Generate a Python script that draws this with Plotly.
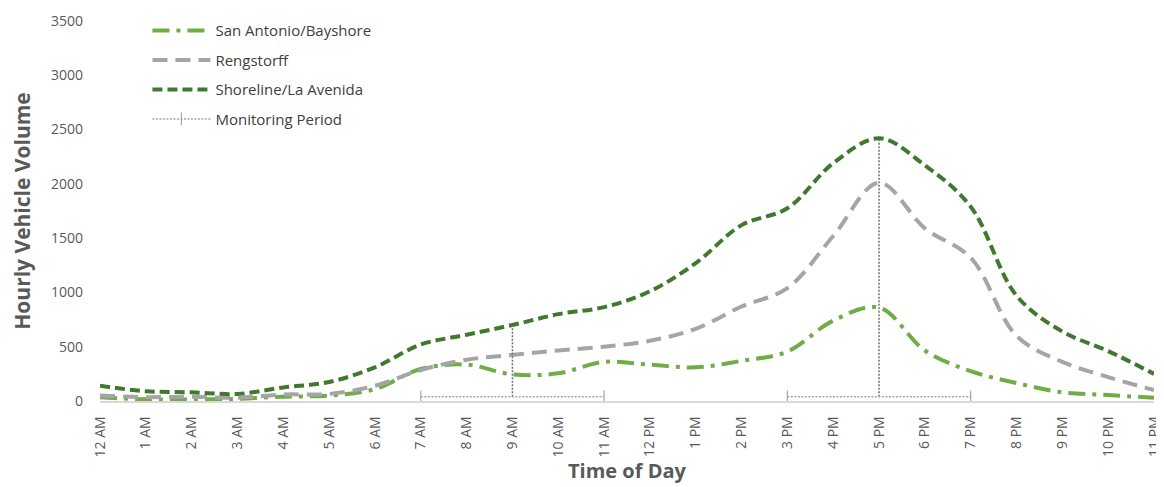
import plotly.graph_objects as go

hours = list(range(24))
hour_labels = ["12 AM", "1 AM", "2 AM", "3 AM", "4 AM", "5 AM", "6 AM", "7 AM", "8 AM", "9 AM", "10 AM", "11 AM",
               "12 PM", "1 PM", "2 PM", "3 PM", "4 PM", "5 PM", "6 PM", "7 PM", "8 PM", "9 PM", "10 PM", "11 PM"]

bayshore = [35, 15, 15, 20, 40, 50, 110, 295, 335, 245, 255, 360, 335, 310, 370, 455, 740, 860, 465, 275, 165, 80, 55, 30]
rengstorff = [50, 35, 40, 30, 60, 65, 140, 285, 380, 425, 465, 500, 555, 665, 870, 1040, 1520, 2010, 1590, 1320, 600, 360, 220, 100]
shoreline = [140, 90, 80, 65, 125, 175, 310, 520, 610, 700, 800, 865, 1010, 1270, 1620, 1775, 2190, 2420, 2170, 1790, 970, 640, 460, 250]

# Monitoring periods: (start hour, end hour, center hour)
mon_start = [7, 15]
mon_end = [11, 19]
mon_center = [9, 17]
mon_base = 38

fig = go.Figure()

fig.add_trace(go.Scatter(
    x=hours, y=bayshore, name="San Antonio/Bayshore", mode="lines",
    line=dict(color="#70ad47", width=4, dash="17px,7px,4px,7px", shape="spline", smoothing=1.0),
    legendgroup="a"))
fig.add_trace(go.Scatter(
    x=hours, y=rengstorff, name="Rengstorff", mode="lines",
    line=dict(color="#a5a5a5", width=4, dash="15px,8px", shape="spline", smoothing=1.0),
    legendgroup="b"))
fig.add_trace(go.Scatter(
    x=hours, y=shoreline, name="Shoreline/La Avenida", mode="lines",
    line=dict(color="#41782f", width=4, dash="10px,5px", shape="spline", smoothing=1.0),
    legendgroup="c"))

# vertical peak markers
vx, vy = [], []
for c in mon_center:
    vx += [c, c, None]
    vy += [mon_base, shoreline[c], None]
fig.add_trace(go.Scatter(
    x=vx, y=vy, mode="lines", showlegend=False, hoverinfo="skip",
    line=dict(color="#707070", width=1.5, dash="2px,1.5px")))

# horizontal monitoring periods
hx, hy = [], []
for s, e in zip(mon_start, mon_end):
    hx += [s, e, None]
    hy += [mon_base, mon_base, None]
fig.add_trace(go.Scatter(
    x=hx, y=hy, mode="lines+markers", name="Monitoring Period",
    line=dict(color="#a6a6a6", width=1.5, dash="2px,1.5px"),
    marker=dict(symbol="line-ns-open", size=9, color="#a6a6a6", line=dict(width=1.2, color="#a6a6a6")),
    legendgroup="d"))

# The page body adds an 8px offset, so the figure is sized/margined to compensate.
fig.update_layout(
    width=1156, height=479,
    margin=dict(l=92, r=10, t=6, b=86),
    paper_bgcolor="white", plot_bgcolor="white",
    font=dict(family="Open Sans", color="#595959", size=14),
    showlegend=True,
    legend=dict(x=0.045, y=1.018, xanchor="left", yanchor="top",
                font=dict(size=15, color="#404040"), itemwidth=58,
                tracegroupgap=7, bgcolor="rgba(0,0,0,0)"),
    xaxis=dict(range=[0, 23], tickmode="array", tickvals=hours, ticktext=hour_labels,
               tickangle=-90, showgrid=False, zeroline=False, showline=True,
               linecolor="#d9d9d9", linewidth=1.5, ticks="", automargin=False,
               ticklabeloverflow="allow", ticklabelstandoff=8,
               tickfont=dict(size=14, color="#595959"),
               title=dict(text="<b>Time of Day</b>", font=dict(size=20, color="#595959"), standoff=8)),
    yaxis=dict(range=[0, 3500], dtick=500, showgrid=False, zeroline=False, showline=False,
               ticks="", ticklabelstandoff=16, automargin=False, ticklabeloverflow="allow",
               tickfont=dict(size=14, color="#595959"),
               title=dict(text="<b>Hourly Vehicle Volume</b>", font=dict(size=21, color="#595959"), standoff=16)),
)

fig.write_html("out.html")
